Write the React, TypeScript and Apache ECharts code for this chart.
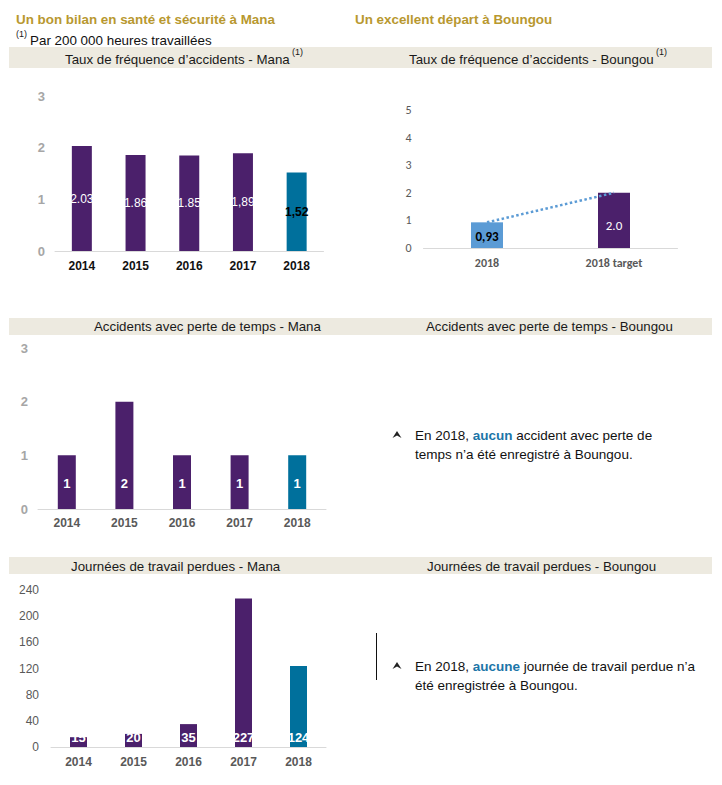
import React, { useEffect, useRef } from "react";
import * as echarts from "echarts";

const years = ["2014", "2015", "2016", "2017", "2018"];
const manaRate = [2.03, 1.86, 1.85, 1.89, 1.52];
const manaRateLabels = ["2.03", "1.86", "1.85", "1,89", "1,52"];
const boungouCats = ["2018", "2018 target"];
const boungouRate = [0.93, 2.0];
const boungouRateLabels = ["0,93", "2.0"];
const manaLTA = [1, 2, 1, 1, 1];
const manaLostDays = [15, 20, 35, 227, 124];

const PURPLE = "#4B206B";
const TEAL = "#00709C";
const LIGHTBLUE = "#5B9BD5";
const STRIP = "#EDEAE0";
const GOLD = "#B8982F";
const AXIS = "#D9D9D9";
const ARIAL = "Liberation Sans, Arial, sans-serif";
const CALIBRI = "Carlito, Lato, sans-serif";

export default function App() {
  const ref = useRef<HTMLDivElement>(null);
  useEffect(() => {
    if (!ref.current) return;
    const chart = echarts.init(ref.current, undefined, { renderer: "svg" });
    const last = years.length - 1;

    const catAxis = (gridIndex: number, data: string[], color: string, font: string, margin: number) => ({
      type: "category",
      gridIndex,
      data,
      axisLine: { lineStyle: { color: AXIS, width: 1 } },
      axisTick: { show: false },
      axisLabel: { color, fontWeight: "bold", fontSize: 12, fontFamily: font, margin },
    });
    const valAxis = (gridIndex: number, max: number, interval: number, color: string, bold: boolean, font: string, margin: number, size: number) => ({
      type: "value",
      gridIndex,
      min: 0,
      max,
      interval,
      splitLine: { show: false },
      axisLine: { show: false },
      axisTick: { show: false },
      axisLabel: { color, fontWeight: bold ? "bold" : "normal", fontSize: size, fontFamily: font, margin },
    });

    const headerText = (text: string, x: number, y: number) => ({
      type: "text",
      x,
      y,
      style: { text, fill: "#1a1a1a", font: `13.3px ${ARIAL}`, align: "left", verticalAlign: "middle" },
    });
    const sup = (x: number, y: number) => ({
      type: "text",
      x,
      y,
      style: { text: "(1)", fill: "#1a1a1a", font: `9px ${ARIAL}`, align: "left", verticalAlign: "middle" },
    });
    const marker = (x: number, y: number) => ({
      type: "polygon",
      shape: { points: [[x, y - 4], [x + 4.5, y + 3], [x, y + 0.5], [x - 4.5, y + 3]] },
      style: { fill: "#222" },
    });
    const bulletLine = (text: string, x: number, y: number) => ({
      type: "text",
      x,
      y,
      style: {
        text,
        fill: "#111",
        font: `13.5px ${ARIAL}`,
        align: "left",
        verticalAlign: "middle",
        rich: {
          b: { fill: "#1B75A8", fontWeight: "bold", fontSize: 13.5, fontFamily: ARIAL },
        },
      },
    });

    const option: any = {
      animation: false,
      backgroundColor: "#ffffff",
      grid: [
        { left: 55, width: 268.5, top: 96, height: 155 },
        { left: 423.5, width: 254, top: 110, height: 138 },
        { left: 38, width: 288, top: 348, height: 161 },
        { left: 51, width: 275, top: 590, height: 157 },
      ],
      xAxis: [
        catAxis(0, years, "#111111", ARIAL, 9),
        catAxis(1, boungouCats, "#595959", CALIBRI, 9),
        catAxis(2, years, "#595959", ARIAL, 8),
        catAxis(3, years, "#595959", ARIAL, 9),
      ],
      yAxis: [
        valAxis(0, 3, 1, "#A6A6A6", true, ARIAL, 10, 13),
        valAxis(1, 5, 1, "#595959", false, CALIBRI, 12, 12),
        valAxis(2, 3, 1, "#A6A6A6", true, ARIAL, 10, 13),
        valAxis(3, 240, 40, "#595959", false, ARIAL, 12, 12),
      ],
      series: [
        {
          type: "bar",
          xAxisIndex: 0,
          yAxisIndex: 0,
          barWidth: 20,
          data: manaRate.map((v, i) => ({
            value: v,
            itemStyle: { color: i === last ? TEAL : PURPLE },
            label: {
              color: i === last ? "#000" : "#fff",
              fontWeight: i === last ? "bold" : "normal",
            },
          })),
          label: {
            show: true,
            position: "inside",
            fontSize: 12,
            fontFamily: ARIAL,
            formatter: (p: any) => manaRateLabels[p.dataIndex],
          },
        },
        {
          type: "bar",
          xAxisIndex: 1,
          yAxisIndex: 1,
          barWidth: 32,
          data: boungouRate.map((v, i) => ({
            value: v,
            itemStyle: { color: i === 0 ? LIGHTBLUE : PURPLE },
            label: {
              color: i === 0 ? "#000" : "#fff",
              fontWeight: i === 0 ? "bold" : "normal",
              offset: i === 0 ? [0, 1] : [0, 5],
            },
          })),
          label: {
            show: true,
            position: "inside",
            fontSize: 13,
            fontFamily: CALIBRI,
            formatter: (p: any) => boungouRateLabels[p.dataIndex],
          },
        },
        {
          type: "line",
          xAxisIndex: 1,
          yAxisIndex: 1,
          data: boungouRate,
          symbol: "none",
          lineStyle: { color: LIGHTBLUE, width: 2.5, type: "dotted" },
          z: 5,
        },
        {
          type: "bar",
          xAxisIndex: 2,
          yAxisIndex: 2,
          barWidth: 18,
          data: manaLTA.map((v, i) => ({
            value: v,
            itemStyle: { color: i === last ? TEAL : PURPLE },
          })),
          label: {
            show: true,
            position: "insideBottom",
            distance: 19,
            color: "#fff",
            fontWeight: "bold",
            fontSize: 13,
            fontFamily: ARIAL,
          },
        },
        {
          type: "bar",
          xAxisIndex: 3,
          yAxisIndex: 3,
          barWidth: 17,
          data: manaLostDays.map((v, i) => ({
            value: v,
            itemStyle: { color: i === last ? TEAL : PURPLE },
          })),
          label: {
            show: true,
            position: "insideBottom",
            distance: 3,
            color: "#fff",
            fontWeight: "bold",
            fontSize: 13,
            fontFamily: ARIAL,
          },
        },
      ],
      graphic: [
        { type: "rect", shape: { x: 9, y: 47, width: 703, height: 21 }, style: { fill: STRIP }, z: -1 },
        { type: "rect", shape: { x: 9, y: 318, width: 703, height: 17 }, style: { fill: STRIP }, z: -1 },
        { type: "rect", shape: { x: 9, y: 557, width: 703, height: 17 }, style: { fill: STRIP }, z: -1 },
        {
          type: "text",
          x: 16,
          y: 19,
          style: { text: "Un bon bilan en santé et sécurité à Mana", fill: GOLD, font: `bold 13.4px ${ARIAL}`, align: "left", verticalAlign: "middle" },
        },
        {
          type: "text",
          x: 355,
          y: 19,
          style: { text: "Un excellent départ à Boungou", fill: GOLD, font: `bold 13.4px ${ARIAL}`, align: "left", verticalAlign: "middle" },
        },
        sup(16, 34),
        {
          type: "text",
          x: 30,
          y: 40,
          style: { text: "Par 200 000 heures travaillées", fill: "#111", font: `13.4px ${ARIAL}`, align: "left", verticalAlign: "middle" },
        },
        headerText("Taux de fréquence d’accidents - Mana", 65, 59),
        sup(292, 52),
        headerText("Taux de fréquence d’accidents - Boungou", 409, 59),
        sup(656, 52),
        headerText("Accidents avec perte de temps - Mana", 94, 326),
        headerText("Accidents avec perte de temps - Boungou", 426, 326),
        headerText("Journées de travail perdues - Mana", 71, 566),
        headerText("Journées de travail perdues - Boungou", 427, 566),
        marker(397, 435),
        bulletLine("En 2018, {b|aucun} accident avec perte de", 415, 435),
        bulletLine("temps n’a été enregistré à Boungou.", 415, 454),
        {
          type: "line",
          shape: { x1: 376.5, y1: 633, x2: 376.5, y2: 680 },
          style: { stroke: "#111", lineWidth: 1 },
        },
        marker(397, 666),
        bulletLine("En 2018, {b|aucune} journée de travail perdue n’a", 415, 666),
        bulletLine("été enregistrée à Boungou.", 415, 685),
      ],
    };
    chart.setOption(option);
    return () => chart.dispose();
  }, []);
  return (
    <div
      ref={ref}
      style={{ position: "absolute", left: 0, top: 0, width: 722, height: 785 }}
    />
  );
}
